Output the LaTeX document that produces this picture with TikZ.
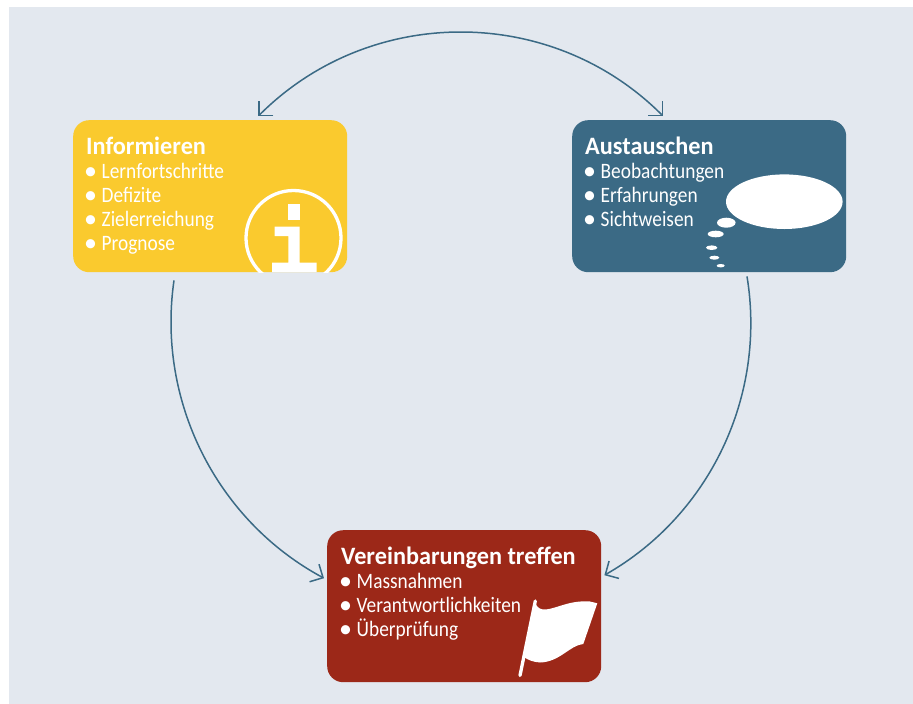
\documentclass[tikz,border=0pt]{standalone}
\usepackage{fontspec}
\setmainfont{Carlito}
\newfontfamily\lstf[FakeStretch=.88]{Carlito}
\newfontfamily\ttlf[FakeStretch=.97]{Carlito}
\usetikzlibrary{arrows.meta,calc}
\definecolor{bgc}{HTML}{E3E8EF}
\definecolor{yel}{HTML}{FACA2E}
\definecolor{blu}{HTML}{3B6A85}
\definecolor{rd}{HTML}{9C2818}
\newcommand{\ttl}[1]{{\ttlf\fontsize{25}{24}\bfseries\selectfont #1}\\}
\newcommand{\itm}[1]{\hspace*{-2pt}\makebox[17.5pt][l]{\raisebox{-.5pt}{\fontfamily{\rmdefault}\fontsize{26}{24}\selectfont •}}#1\\}
\tikzset{
  box/.style={rounded corners=16pt,minimum width=274pt,minimum height=152pt,inner sep=0pt,anchor=north west},
  label/.style={white,anchor=north west,inner sep=0pt,align=left,font=\lstf\fontsize{22}{24}\selectfont},
  barb/.tip={Straight Barb[length=10pt,width=20pt,line width=1.5pt]},
  conn/.style={draw=blu,line width=1.5pt,barb-barb},
  connend/.style={draw=blu,line width=1.5pt,-barb}
}
\begin{document}
\begin{tikzpicture}[x=1pt,y=-1pt]
\useasboundingbox (0,0) rectangle (913,704);
\fill[bgc] (9,7) rectangle (913,704);
\node[box,fill=yel] (info) at (73,120) {};
\node[box,fill=blu] (aus) at (572,120) {};
\node[box,fill=rd] (ver) at (327,530) {};
\node[label] (infot) at (86,137) {\ttl{Informieren}\itm{Lernfortschritte}\itm{Defizite}\itm{Zielerreichung}\itm{Prognose}};
\node[label] (aust) at (585,137) {\ttl{Austauschen}\itm{Beobachtungen}\itm{Erfahrungen}\itm{Sichtweisen}};
\node[label] (vert) at (341,547) {\ttl{Vereinbarungen treffen}\itm{Massnahmen}\itm{Verantwortlichkeiten}\itm{Überprüfung}};
% connectors
\draw[conn] ([shift={(-89,-4)}]info.north east) to[bend left=45] ([shift={(91,-4)}]aus.north west);
\draw[connend] ([shift={(101,8)}]info.south west) to[bend right=35,looseness=.935] ([shift={(-3,-28)}]ver.west);
\draw[connend] ([shift={(175,4)}]aus.south west) to[bend left=34.8,looseness=.935] ([shift={(3,-31)}]ver.east);
% info icon
\begin{scope}
\clip (240,180) rectangle (347,272);
\draw[white,line width=3.3pt] (293.5,238) circle[radius=47.5];
\end{scope}
\fill[white] (288.3,204.3) rectangle (299.7,220);
\fill[white] (274.7,226.7) -- (299.7,226.7) -- (299.7,262.7) -- (316.7,262.7) -- (316.7,272) -- (272,272) -- (272,262.7) -- (288.3,262.7) -- (288.3,236) -- (274.7,236) -- cycle;
% thought bubble
\fill[white] (784.3,201.7) ellipse[x radius=58.3,y radius=27.3];
\fill[white] (726.3,222.7) ellipse[x radius=9.3,y radius=5];
\fill[white] (715.7,234) ellipse[x radius=8,y radius=3.3];
\fill[white] (711.7,247.7) ellipse[x radius=5.7,y radius=2.3];
\fill[white] (714.3,257.7) ellipse[x radius=5,y radius=2];
\fill[white] (720.7,265.7) ellipse[x radius=4,y radius=1.7];
% flag
\draw[white,line width=3.3pt,line cap=round] (535.3,601) -- (520,675.5);
\fill[white] (535.3,603) .. controls (537,608) and (541,610) .. (546,609.5) .. controls (558,608) and (570,600) .. (590,601.5) -- (597.3,603.3) -- (583.3,644) .. controls (570,645) and (560,662) .. (540,662.5) .. controls (533,662) and (528,660) .. (524,657) -- cycle;
\end{tikzpicture}
\end{document}
